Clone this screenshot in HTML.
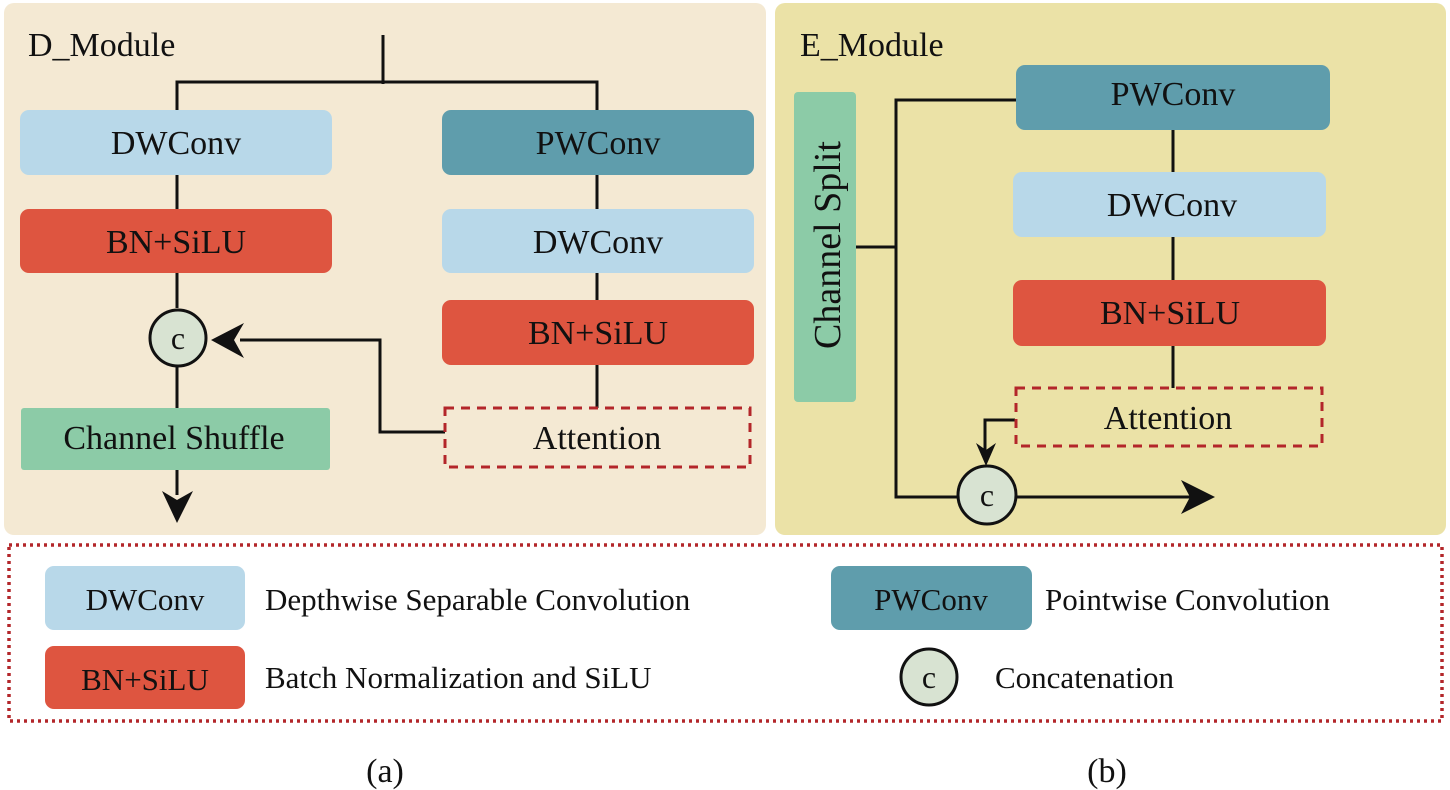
<!DOCTYPE html>
<html><head><meta charset="utf-8"><style>
html,body{margin:0;padding:0;background:#fff;}
svg{display:block;}
text{font-family:"Liberation Serif",serif;fill:#111;}
</style></head><body>
<svg width="1450" height="790" viewBox="0 0 1450 790" xmlns="http://www.w3.org/2000/svg">
<rect x="4" y="3" width="762" height="532" rx="10" fill="#f4e9d3"/>
<rect x="775" y="3" width="671" height="532" rx="10" fill="#ebe2a7"/>

<!-- D module -->
<text x="28" y="56" font-size="34">D_Module</text>
<g stroke="#111" stroke-width="3" fill="none">
<path d="M383 35 V84 M177 110 V82 H597 V110"/>
<path d="M177 175 V209 M597 175 V209 M177 273 V308 M597 273 V300 M177 367 V408 M597 365 V408"/>
<path d="M445 432 H380 V340 H240"/>
<path d="M177 470 V495"/>
</g>
<path d="M211 340 L244 323 L234 340 L244 358 Z" fill="#111"/>
<path d="M177 523 L162 491 L177 500 L193 491 Z" fill="#111"/>
<rect x="20" y="110" width="312" height="65" rx="9" fill="#b8d8e9"/>
<text x="176" y="154" font-size="34" text-anchor="middle">DWConv</text>
<rect x="442" y="110" width="312" height="65" rx="9" fill="#5f9dac"/>
<text x="598" y="154" font-size="34" text-anchor="middle">PWConv</text>
<rect x="20" y="209" width="312" height="64" rx="9" fill="#de5540"/>
<text x="176" y="253" font-size="34" text-anchor="middle">BN+SiLU</text>
<rect x="442" y="209" width="312" height="64" rx="9" fill="#b8d8e9"/>
<text x="598" y="253" font-size="34" text-anchor="middle">DWConv</text>
<rect x="442" y="300" width="312" height="65" rx="9" fill="#de5540"/>
<text x="598" y="344" font-size="34" text-anchor="middle">BN+SiLU</text>
<ellipse cx="178" cy="338" rx="28" ry="28" fill="#d8e3d2" stroke="#111" stroke-width="3"/>
<text x="178" y="349" font-size="32" text-anchor="middle">c</text>
<rect x="21" y="408" width="309" height="62" rx="3" fill="#8ccba7"/>
<text x="174" y="449" font-size="34" text-anchor="middle">Channel Shuffle</text>
<rect x="445" y="408" width="305" height="59" fill="none" stroke="#b3262a" stroke-width="3" stroke-dasharray="9 7"/>
<text x="597" y="449" font-size="34" text-anchor="middle">Attention</text>

<!-- E module -->
<text x="800" y="56" font-size="34">E_Module</text>
<g stroke="#111" stroke-width="3" fill="none">
<path d="M856 247 H896 M1016 100 H896 V497 H958 M1016 497 H1190"/>
<path d="M1173 130 V172 M1173 237 V280 M1173 346 V388"/>
<path d="M1015 420 H985 V450"/>
</g>
<path d="M1215 497 L1181 480 L1190 497 L1181 514 Z" fill="#111"/>
<path d="M986 466 L976 443 L986 450 L996 443 Z" fill="#111"/>
<rect x="794" y="92" width="62" height="310" rx="4" fill="#8ccba7"/>
<text transform="translate(840 245) rotate(-90)" font-size="38" text-anchor="middle">Channel Split</text>
<rect x="1016" y="65" width="314" height="65" rx="9" fill="#5f9dac"/>
<text x="1173" y="105" font-size="34" text-anchor="middle">PWConv</text>
<rect x="1013" y="172" width="313" height="65" rx="9" fill="#b8d8e9"/>
<text x="1172" y="216" font-size="34" text-anchor="middle">DWConv</text>
<rect x="1013" y="280" width="313" height="66" rx="9" fill="#de5540"/>
<text x="1170" y="324" font-size="34" text-anchor="middle">BN+SiLU</text>
<rect x="1016" y="388" width="306" height="58" fill="none" stroke="#b3262a" stroke-width="3" stroke-dasharray="9 7"/>
<text x="1168" y="429" font-size="34" text-anchor="middle">Attention</text>
<ellipse cx="987" cy="495" rx="29" ry="29" fill="#d8e3d2" stroke="#111" stroke-width="3"/>
<text x="987" y="506" font-size="32" text-anchor="middle">c</text>

<!-- legend -->
<rect x="9" y="545" width="1433" height="176" fill="none" stroke="#b3262a" stroke-width="3.5" stroke-dasharray="3 4"/>
<rect x="45" y="566" width="200" height="64" rx="9" fill="#b8d8e9"/>
<text x="145" y="610" font-size="31" text-anchor="middle">DWConv</text>
<text x="265" y="610" font-size="31">Depthwise Separable Convolution</text>
<rect x="45" y="646" width="200" height="63" rx="9" fill="#de5540"/>
<text x="145" y="690" font-size="31" text-anchor="middle">BN+SiLU</text>
<text x="265" y="688" font-size="31">Batch Normalization and SiLU</text>
<rect x="831" y="566" width="201" height="64" rx="9" fill="#5f9dac"/>
<text x="931" y="610" font-size="31" text-anchor="middle">PWConv</text>
<text x="1045" y="610" font-size="31">Pointwise Convolution</text>
<ellipse cx="929" cy="677" rx="28" ry="28" fill="#d8e3d2" stroke="#111" stroke-width="3"/>
<text x="929" y="688" font-size="32" text-anchor="middle">c</text>
<text x="995" y="688" font-size="31">Concatenation</text>

<text x="385" y="782" font-size="34" text-anchor="middle">(a)</text>
<text x="1107" y="782" font-size="34" text-anchor="middle">(b)</text>
</svg>
</body></html>
